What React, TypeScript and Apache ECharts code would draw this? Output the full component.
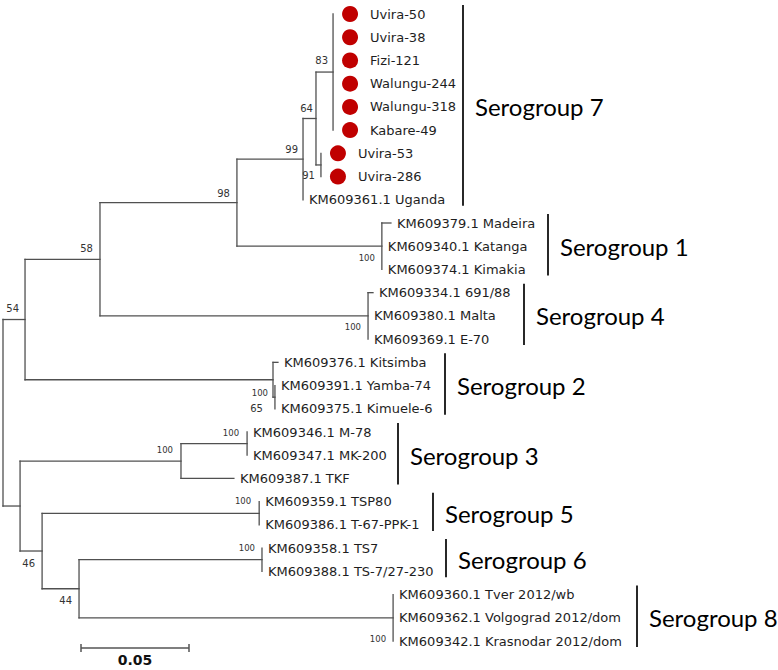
import React, { useEffect, useRef } from 'react';
import * as echarts from 'echarts';

// ---------- DATA ----------
const leafNames = [
  'Uvira-50', 'Uvira-38', 'Fizi-121', 'Walungu-244', 'Walungu-318', 'Kabare-49',
  'Uvira-53', 'Uvira-286', 'KM609361.1 Uganda',
  'KM609379.1 Madeira', 'KM609340.1 Katanga', 'KM609374.1 Kimakia',
  'KM609334.1 691/88', 'KM609380.1 Malta', 'KM609369.1 E-70',
  'KM609376.1 Kitsimba', 'KM609391.1 Yamba-74', 'KM609375.1 Kimuele-6',
  'KM609346.1 M-78', 'KM609347.1 MK-200', 'KM609387.1 TKF',
  'KM609359.1 TSP80', 'KM609386.1 T-67-PPK-1',
  'KM609358.1 TS7', 'KM609388.1 TS-7/27-230',
  'KM609360.1 Tver 2012/wb', 'KM609362.1 Volgograd 2012/dom', 'KM609342.1 Krasnodar 2012/dom',
];
const leafParents = [
  'n83', 'n83', 'n83', 'n83', 'n83', 'n83', 'n91', 'n91', 'n99',
  'sg1', 'sg1', 'sg1', 'sg4', 'sg4', 'sg4', 'sg2', 'n65', 'n65',
  'sg3b', 'sg3b', 'sg3a', 'sg5', 'sg5', 'sg6', 'sg6', 'sg8', 'sg8', 'sg8',
];
const leafLengths = [
  0, 0, 0, 0, 0, 0, 0, 0, 0,
  0.0042, 0, 0, 0.0023, 0, 0, 0.0023, 0, 0,
  0, 0, 0.0245, 0, 0, 0, 0, 0, 0, 0,
];
const leafIsNewIsolate = [
  true, true, true, true, true, true, true, true, false,
  false, false, false, false, false, false, false, false, false,
  false, false, false, false, false, false, false, false, false, false,
];

const nodeIds = ['root', 'n54', 'nB', 'n58', 'n98', 'n99', 'n64', 'n83', 'n91', 'sg1', 'sg4', 'sg2', 'n65', 'sg3a', 'sg3b', 'n46', 'sg5', 'n44', 'sg6', 'sg8'];
const nodeParents = [null, 'root', 'root', 'n54', 'n58', 'n98', 'n99', 'n64', 'n64', 'n98', 'n58', 'n54', 'sg2', 'nB', 'sg3a', 'nB', 'n46', 'n46', 'n44', 'n44'];
const nodeLengths = [0, 0.0102, 0.0079, 0.0347, 0.0634, 0.0306, 0.006, 0.0079, 0.0023, 0.0671, 0.1241, 0.1148, 0.0009, 0.0745, 0.0306, 0.0102, 0.1005, 0.0171, 0.0847, 0.1454];
const nodeSupport = ['', '54', '', '58', '98', '99', '64', '83', '91', '100', '100', '100', '65', '100', '100', '46', '100', '44', '100', '100'];

const serogroupNames = ['Serogroup 7', 'Serogroup 1', 'Serogroup 4', 'Serogroup 2', 'Serogroup 3', 'Serogroup 5', 'Serogroup 6', 'Serogroup 8'];
const serogroupFirstLeaf = [0, 9, 12, 15, 18, 21, 23, 25];
const serogroupLastLeaf = [8, 11, 14, 17, 20, 22, 24, 27];

const scaleBarLength = 0.05;
const scaleBarLabel = '0.05';

// ---------- LAYOUT (pixels, not data) ----------
const supportDx = [0, 6, 0, 7, 7, 5, 3, 5, 6, 7, 7, 5, 12, 8, 8, 7, 8, 7, 7, 7];
const supportDy = [0, -11, 0, -11, -9, -10, -10, -12, 11, 12, 11, 13, 11, -11, -11, 12, -12, 12, -12, 21];
const bracketX = [463, 548, 524, 445, 398, 433, 446, 637];

// ---------- TREE COMPUTATION ----------
type TNode = { id: string; parent: string | null; len: number; depth: number; y: number; children: string[]; leaf: number };
const nodes: Record<string, TNode> = {};
nodeIds.forEach((id, i) => {
  nodes[id] = { id, parent: nodeParents[i], len: nodeLengths[i], depth: 0, y: 0, children: [], leaf: -1 };
});
leafNames.forEach((name, i) => {
  const id = 'leaf' + i;
  nodes[id] = { id, parent: leafParents[i], len: leafLengths[i], depth: 0, y: i, children: [], leaf: i };
});
Object.values(nodes).forEach((n) => {
  if (n.parent) nodes[n.parent].children.push(n.id);
});
function setDepth(id: string, d: number) {
  const n = nodes[id];
  n.depth = d + n.len;
  n.children.forEach((c) => setDepth(c, n.depth));
}
setDepth('root', 0);
function setY(id: string): number {
  const n = nodes[id];
  if (n.leaf >= 0) return n.y;
  const ys = n.children.map(setY);
  n.y = (Math.min(...ys) + Math.max(...ys)) / 2;
  return n.y;
}
setY('root');

const branchSegments: number[][] = [];
Object.values(nodes).forEach((n) => {
  if (n.parent && n.len > 0) {
    const p = nodes[n.parent];
    branchSegments.push([p.depth, n.y, n.depth, n.y]);
  }
  if (n.children.length > 0) {
    const ys = n.children.map((c) => nodes[c].y);
    branchSegments.push([n.depth, Math.min(...ys), n.depth, Math.max(...ys)]);
  }
});

const leafData = leafNames.map((_, i) => [nodes['leaf' + i].depth, i, i]);
const supportData = nodeIds
  .map((id, i) => [nodes[id].depth, nodes[id].y, i])
  .filter((d) => nodeSupport[d[2]] !== '');
const serogroupData = serogroupNames.map((_, i) => [0, serogroupFirstLeaf[i], serogroupLastLeaf[i], i]);

const LINE = '#505050';
const LEAF_FONT = 'DejaVu Sans';

const option: any = {
  animation: false,
  backgroundColor: '#ffffff',
  grid: { left: 3, top: 14, width: 756, height: 627, containLabel: false },
  xAxis: { type: 'value', min: 0, max: 0.35, show: false },
  yAxis: { type: 'value', min: 0, max: 27, inverse: true, show: false },
  series: [
    {
      type: 'custom',
      name: 'branches',
      silent: true,
      clip: false,
      data: branchSegments,
      renderItem: (params: any, api: any) => {
        const p1 = api.coord([api.value(0), api.value(1)]);
        const p2 = api.coord([api.value(2), api.value(3)]);
        return {
          type: 'line',
          shape: { x1: p1[0], y1: p1[1], x2: p2[0], y2: p2[1] },
          style: { stroke: LINE, lineWidth: 1.3, lineCap: 'square' },
        };
      },
    },
    {
      type: 'custom',
      name: 'leaves',
      silent: true,
      clip: false,
      data: leafData,
      renderItem: (params: any, api: any) => {
        const p = api.coord([api.value(0), api.value(1)]);
        const i = api.value(2);
        const children: any[] = [];
        let tx = p[0] + 6;
        if (leafIsNewIsolate[i]) {
          children.push({ type: 'circle', shape: { cx: p[0] + 17, cy: p[1], r: 8 }, style: { fill: '#c00000' } });
          tx = p[0] + 37;
        }
        children.push({
          type: 'text',
          x: tx,
          y: p[1],
          style: { text: leafNames[i], fill: '#1e1e1e', fontSize: 13, fontFamily: LEAF_FONT, align: 'left', verticalAlign: 'middle' },
        });
        return { type: 'group', children };
      },
    },
    {
      type: 'custom',
      name: 'support',
      silent: true,
      clip: false,
      data: supportData,
      renderItem: (params: any, api: any) => {
        const p = api.coord([api.value(0), api.value(1)]);
        const i = api.value(2);
        const s = nodeSupport[i];
        return {
          type: 'text',
          x: p[0] - supportDx[i],
          y: p[1] + supportDy[i],
          style: { text: s, fill: '#333', fontSize: s.length > 2 ? 8.5 : 10, fontFamily: LEAF_FONT, align: 'right', verticalAlign: 'middle' },
        };
      },
    },
    {
      type: 'custom',
      name: 'serogroups',
      silent: true,
      clip: false,
      data: serogroupData,
      renderItem: (params: any, api: any) => {
        const yFirst = api.coord([0, api.value(1)])[1];
        const yLast = api.coord([0, api.value(2)])[1];
        const g = api.value(3);
        const x = bracketX[g];
        return {
          type: 'group',
          children: [
            { type: 'line', shape: { x1: x, y1: Math.max(0, yFirst - 9), x2: x, y2: yLast + 6 }, style: { stroke: '#111', lineWidth: 1.8 } },
            {
              type: 'text',
              x: x + 12,
              y: (yFirst + yLast) / 2,
              style: { text: serogroupNames[g], fill: '#000', fontSize: 24, fontFamily: 'Lato', align: 'left', verticalAlign: 'middle' },
            },
          ],
        };
      },
    },
    {
      type: 'custom',
      name: 'scalebar',
      silent: true,
      clip: false,
      data: [[scaleBarLength, 0]],
      renderItem: (params: any, api: any) => {
        const w = api.size([api.value(0), 0])[0];
        const x0 = 81;
        const y0 = 648;
        const st = { stroke: '#555', lineWidth: 1.5 };
        return {
          type: 'group',
          children: [
            { type: 'line', shape: { x1: x0, y1: y0, x2: x0 + w, y2: y0 }, style: st },
            { type: 'line', shape: { x1: x0, y1: y0 - 4, x2: x0, y2: y0 + 4 }, style: st },
            { type: 'line', shape: { x1: x0 + w, y1: y0 - 4, x2: x0 + w, y2: y0 + 4 }, style: st },
            {
              type: 'text',
              x: x0 + w / 2,
              y: y0 + 12,
              style: { text: scaleBarLabel, fill: '#111', fontSize: 14, fontWeight: 'bold', fontFamily: LEAF_FONT, align: 'center', verticalAlign: 'middle' },
            },
          ],
        };
      },
    },
  ],
};

export default function App() {
  const ref = useRef<HTMLDivElement>(null);
  useEffect(() => {
    const chart = echarts.init(ref.current as HTMLDivElement, null, { renderer: 'svg' });
    chart.setOption(option);
    return () => chart.dispose();
  }, []);
  return (
    <div
      ref={ref}
      style={{ position: 'absolute', left: 0, top: 0, width: 778, height: 670, background: '#fff' }}
    />
  );
}
